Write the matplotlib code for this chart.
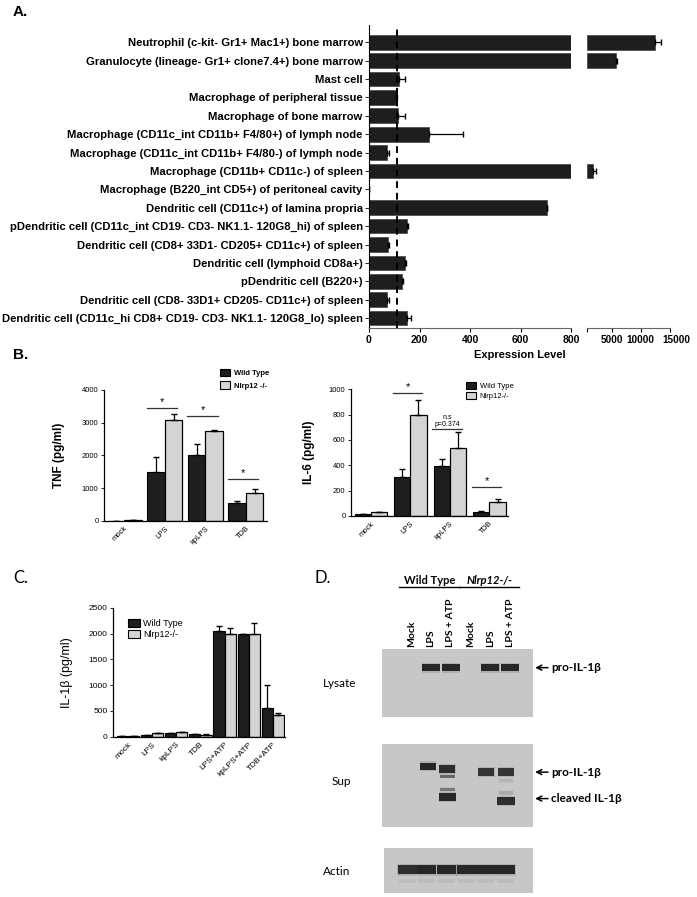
import numpy as np
import matplotlib
matplotlib.use("Agg")
import matplotlib.pyplot as plt
from matplotlib.patches import Patch
from matplotlib.transforms import ScaledTranslation

plt.rcParams['font.family'] = ['Liberation Sans', 'DejaVu Sans']

# ---------------- data ----------------
cells = [
    "Neutrophil (c-kit- Gr1+ Mac1+) bone marrow",
    "Granulocyte (lineage- Gr1+ clone7.4+) bone marrow",
    "Mast cell",
    "Macrophage of peripheral tissue",
    "Macrophage of bone marrow",
    "Macrophage (CD11c_int CD11b+ F4/80+) of lymph node",
    "Macrophage (CD11c_int CD11b+ F4/80-) of lymph node",
    "Macrophage (CD11b+ CD11c-) of spleen",
    "Macrophage (B220_int CD5+) of peritoneal cavity",
    "Dendritic cell (CD11c+) of lamina propria",
    "pDendritic cell (CD11c_int CD19- CD3- NK1.1- 120G8_hi) of spleen",
    "Dendritic cell (CD8+ 33D1- CD205+ CD11c+) of spleen",
    "Dendritic cell (lymphoid CD8a+)",
    "pDendritic cell (B220+)",
    "Dendritic cell (CD8- 33D1+ CD205- CD11c+) of spleen",
    "Dendritic cell (CD11c_hi CD8+ CD19- CD3- NK1.1- 120G8_lo) spleen",
]
expr = np.array([12400, 5700, 118, 105, 116, 237, 72, 1900, 0, 705, 149, 75, 144, 132, 72, 151])
expr_err = np.array([1000, 200, 24, 7, 26, 135, 6, 400, 0, 0, 5, 3, 3, 4, 6, 14])
threshold = 110
break_at = 800

b_groups = ["mock", "LPS", "kpLPS", "TDB"]
tnf_wt = [0, 1500, 2000, 530]
tnf_wt_err = [0, 440, 340, 60]
tnf_ko = [20, 3080, 2750, 860]
tnf_ko_err = [0, 180, 20, 120]
tnf_sig = [(1, 3455), (2, 3200), (3, 1275)]

il6_wt = [14, 310, 395, 34]
il6_wt_err = [4, 62, 52, 4]
il6_ko = [28, 797, 534, 113]
il6_ko_err = [2, 119, 131, 20]
il6_sig = [(1, 973, "*"), (2, 689, "n.s\np=0.374"), (3, 231, "*")]

c_groups = ["mock", "LPS", "kpLPS", "TDB", "LPS+ATP", "kpLPS+ATP", "TDB+ATP"]
il1b_wt = [10, 35, 65, 50, 2050, 2000, 550]
il1b_wt_err = [3, 5, 5, 5, 100, 0, 450]
il1b_ko = [15, 75, 90, 40, 2000, 2000, 430]
il1b_ko_err = [3, 5, 5, 5, 100, 200, 20]

lanes = ["Mock", "LPS", "LPS + ATP", "Mock", "LPS", "LPS + ATP"]
lysate_pro = [0, 1, 1, 0, 1, 1]
sup_pro = [0, 1, 0.95, 0, 0.9, 0.9]
sup_pro_y = [0.73, 0.73, 0.70, 0.66, 0.66, 0.66]
sup_faint1 = [0, 0, 0.55, 0, 0, 0.1]
sup_faint1_y = [0.61, 0.61, 0.61, 0.56, 0.56, 0.56]
sup_faint2 = [0, 0, 0.45, 0, 0, 0.15]
sup_faint2_y = [0.45, 0.45, 0.45, 0.41, 0.41, 0.41]
sup_cleaved = [0, 0, 1, 0, 0, 0.95]
sup_cleaved_y = [0.36, 0.36, 0.36, 0.31, 0.31, 0.31]
actin = [0.95, 1, 1, 1, 1, 1]

W, H = 697, 897
fig = plt.figure(figsize=(W / 100, H / 100), dpi=100)

def px_axes(x0, y0, x1, y1):
    return fig.add_axes([x0 / W, 1 - y1 / H, (x1 - x0) / W, (y1 - y0) / H])

dark = '#1e1e1e'
light = '#d4d4d4'

# ================= Panel A =================
y = np.arange(len(cells))
axL = px_axes(369, 25, 571, 328)
axR = px_axes(587, 25, 670, 328)
axL.barh(y, np.minimum(expr, break_at), height=0.8, color=dark, edgecolor='#444444', lw=0.5)
small = expr <= break_at
axL.errorbar(expr[small], y[small], xerr=[np.zeros(small.sum()), expr_err[small]],
             fmt='none', ecolor='black', elinewidth=0.9, capsize=2)
axL.axvline(threshold, color='black', lw=1.4, ls=(0, (3.5, 2.5)))
axL.set_xlim(0, break_at)
axL.set_ylim(15.54, -0.94)
axL.set_yticks(y)
axL.set_yticklabels(cells, fontsize=8.1, fontweight='bold')
axL.set_xticks([0, 200, 400, 600, 800])
axL.tick_params(axis='x', labelsize=7.5, length=3, width=0.8, pad=2)
axL.tick_params(axis='y', length=3, width=0.6, pad=1.5)
for lbl in axL.get_xticklabels():
    lbl.set_fontweight('bold')
for s in ['top', 'right']:
    axL.spines[s].set_visible(False)
axL.spines['bottom'].set_color('#666666')

big = ~small
axR.barh(y[big], expr[big] - break_at, left=break_at, height=0.8, color=dark,
         edgecolor='#444444', lw=0.5)
axR.errorbar(expr[big], y[big], xerr=[np.zeros(big.sum()), expr_err[big]],
             fmt='none', ecolor='black', elinewidth=0.9, capsize=2)
axR.set_xlim(break_at, 15000)
axR.set_ylim(15.54, -0.94)
axR.set_yticks([])
axR.set_xticks([break_at, 5000, 10000, 15000])
axR.set_xticklabels(['', '5000', '10000', '15000'], fontweight='bold')
axR.tick_params(axis='x', labelsize=7.2, length=3, width=0.8, pad=2)
last = axR.get_xticklabels()[-1]
last.set_transform(last.get_transform() + ScaledTranslation(0.06, 0, fig.dpi_scale_trans))
for s in ['top', 'right', 'left']:
    axR.spines[s].set_visible(False)
axR.spines['bottom'].set_color('#666666')
fig.text(520 / W, 1 - 355 / H, "Expression Level", ha='center', va='center',
         fontsize=8, fontweight='bold')
fig.text(13 / W, 1 - 12 / H, "A.", ha='left', va='center', fontsize=11, fontweight='bold')
fig.text(13 / W, 1 - 355 / H, "B.", ha='left', va='center', fontsize=11, fontweight='bold')


def grouped(ax, wt, wt_err, ko, ko_err, groups, width, ylim, yticks, tick_fs):
    x = np.arange(len(groups))
    ax.bar(x - width / 2, wt, width, color=dark, edgecolor='black', lw=0.8)
    ax.bar(x + width / 2, ko, width, color=light, edgecolor='black', lw=0.9)
    ax.errorbar(x - width / 2, wt, yerr=[np.zeros(len(x)), wt_err], fmt='none',
                ecolor='black', elinewidth=0.9, capsize=2)
    ax.errorbar(x + width / 2, ko, yerr=[np.zeros(len(x)), ko_err], fmt='none',
                ecolor='black', elinewidth=0.9, capsize=2)
    ax.set_ylim(*ylim)
    ax.set_yticks(yticks)
    ax.set_xticks(x)
    ax.set_xticklabels(groups, rotation=45, ha='right', rotation_mode='anchor',
                       fontsize=tick_fs)
    ax.tick_params(axis='y', labelsize=tick_fs, length=2.5, width=0.6, pad=1.5)
    ax.tick_params(axis='x', length=0, pad=3)
    for s in ['top', 'right']:
        ax.spines[s].set_visible(False)
    for s in ['left', 'bottom']:
        ax.spines[s].set_linewidth(0.9)


# ================= Panel B (TNF) =================
axB1 = px_axes(104, 390, 267, 520.7)
grouped(axB1, tnf_wt, tnf_wt_err, tnf_ko, tnf_ko_err, b_groups, 0.43,
        (0, 4000), [0, 1000, 2000, 3000, 4000], 5.5)
axB1.set_xlim(-0.5, 3.52)
for g, v in tnf_sig:
    axB1.plot([g - 0.45, g + 0.3], [v, v], color='#333333', lw=0.9)
    axB1.text(g - 0.07, v + 20, "*", ha='center', va='bottom', fontsize=8)
axB1.set_ylabel("TNF (pg/ml)", fontsize=8.5, fontweight='bold')
axB1.yaxis.set_label_coords(-0.24, 0.5)

# ================= Panel B (IL-6) =================
axB2 = px_axes(351, 389.3, 508, 516)
grouped(axB2, il6_wt, il6_wt_err, il6_ko, il6_ko_err, b_groups, 0.41,
        (0, 1000), [0, 200, 400, 600, 800, 1000], 5.5)
axB2.set_xlim(-0.5, 3.47)
for g, v, t in il6_sig:
    axB2.plot([g - 0.45, g + 0.3], [v, v], color='#333333', lw=0.9)
    if t == "*":
        axB2.text(g - 0.07, v + 5, t, ha='center', va='bottom', fontsize=8)
    else:
        axB2.text(g - 0.07, v + 5, t, ha='center', va='bottom', fontsize=5,
                  linespacing=1.0)
axB2.set_ylabel("IL-6 (pg/ml)", fontsize=8.5, fontweight='bold')
axB2.yaxis.set_label_coords(-0.23, 0.5)

legB = [Patch(facecolor=dark, edgecolor='black', lw=0.8, label="Wild Type"),
        Patch(facecolor=light, edgecolor='black', lw=0.8, label="Nlrp12 -/-")]
fig.legend(handles=legB, loc='upper left', bbox_to_anchor=(216 / W, 1 - 365 / H),
           frameon=False, prop={'size': 5.5, 'weight': 'bold'}, handlelength=1.3,
           handleheight=1.1, labelspacing=0.55, borderpad=0, handletextpad=0.5)
legB2 = [Patch(facecolor=dark, edgecolor='black', lw=0.8, label="Wild Type"),
         Patch(facecolor=light, edgecolor='black', lw=0.8, label="Nlrp12-/-")]
fig.legend(handles=legB2, loc='upper left', bbox_to_anchor=(462 / W, 1 - 378 / H),
           frameon=False, prop={'size': 5.5}, handlelength=1.3,
           handleheight=1.0, labelspacing=0.3, borderpad=0, handletextpad=0.5)

# ================= Panel C =================
axC = px_axes(113, 607.7, 285, 736.7)
grouped(axC, il1b_wt, il1b_wt_err, il1b_ko, il1b_ko_err, c_groups, 0.46,
        (0, 2500), [0, 500, 1000, 1500, 2000, 2500], 6)
axC.set_xlim(-0.62, 6.5)
axC.set_ylabel("IL-1\u03b2 (pg/ml)", fontsize=9)
axC.yaxis.set_label_coords(-0.235, 0.5)
axC.legend(handles=[Patch(facecolor=dark, edgecolor='black', lw=0.8, label="Wild Type"),
                    Patch(facecolor=light, edgecolor='black', lw=0.8, label="Nlrp12-/-")],
           loc='upper left', bbox_to_anchor=(0.06, 0.95), frameon=False,
           prop={'size': 6.5}, handlelength=1.3, handleheight=1.0,
           labelspacing=0.25, borderpad=0, handletextpad=0.4)

fig.text(13 / W, 1 - 578 / H, "C.", ha='left', va='center', fontsize=12,
         family=['Lato', 'DejaVu Sans'])
fig.text(315 / W, 1 - 578 / H, "D.", ha='left', va='center', fontsize=12,
         family=['Lato', 'DejaVu Sans'])

# ================= Panel D (blots) =================
lato = ['Lato', 'DejaVu Sans']
gel_bg = '#c7c7c7'
band_c = '#262626'


def gel(box, xlim):
    ax = px_axes(*box)
    ax.set_facecolor(gel_bg)
    ax.set_xlim(*xlim)
    ax.set_ylim(0, 1)
    ax.set_xticks([])
    ax.set_yticks([])
    for s in ax.spines.values():
        s.set_visible(False)
    return ax


def bands(ax, inten, ypos, h, w=0.9):
    x = np.arange(len(inten))
    ypos = np.broadcast_to(ypos, x.shape)
    for xi, yi, a in zip(x, ypos, inten):
        if a <= 0:
            continue
        ax.barh(yi, w * 1.04, left=xi - w * 1.04 / 2, height=h * 1.3,
                color=band_c, alpha=0.15 * a, lw=0)
        ax.barh(yi, w, left=xi - w / 2, height=h, color=band_c, alpha=a, lw=0)


def side_label(ax, y_frac, text):
    ax.annotate('', xy=(1.012, y_frac), xytext=(1.097, y_frac), xycoords='axes fraction',
                arrowprops=dict(arrowstyle='->', lw=1.1, color='black',
                                shrinkA=0, shrinkB=0, mutation_scale=9))
    ax.text(1.12, y_frac, text, transform=ax.transAxes, ha='left', va='center',
            fontsize=8.5, fontweight='bold', family=lato)


axLy = gel((381.7, 649.3, 533.3, 717.3), (-1.5, 6.18))
bands(axLy, lysate_pro, 0.73, 0.11)
axLy.xaxis.tick_top()
axLy.set_xticks(np.arange(len(lanes)))
axLy.set_xticklabels(lanes, rotation=90, fontsize=7.5, fontweight='bold', family=lato)
axLy.tick_params(axis='x', length=0, pad=2)
side_label(axLy, 0.73, "pro-IL-1\u03b2")
axLy.text(-0.387, 0.49, "Lysate", transform=axLy.transAxes, ha='left', va='center',
          fontsize=8.5, family=lato)
tr = axLy.get_xaxis_transform()
for (a, b, t, st) in [(0, 2, "Wild Type", 'normal'), (3, 5, "Nlrp12-/-", 'italic')]:
    axLy.plot([a - 0.6, b + 0.45], [1.91, 1.91], color='black', lw=1.0,
              transform=tr, clip_on=False)
    axLy.text((a + b) / 2 - 0.05, 1.935, t, transform=tr, ha='center', va='bottom',
              fontsize=8, fontweight='bold', style=st, family=lato)

axSup = gel((381.7, 744, 533.3, 826.7), (-1.37, 6.4))
bands(axSup, sup_pro, sup_pro_y, 0.09, 0.82)
bands(axSup, sup_faint1, sup_faint1_y, 0.04, 0.75)
bands(axSup, sup_faint2, sup_faint2_y, 0.045, 0.75)
bands(axSup, sup_cleaved, sup_cleaved_y, 0.09, 0.88)
side_label(axSup, 0.66, "pro-IL-1\u03b2")
side_label(axSup, 0.34, "cleaved IL-1\u03b2")
axSup.text(-0.33, 0.55, "Sup", transform=axSup.transAxes, ha='left', va='center',
           fontsize=8.5, family=lato)

axAc = gel((384.3, 848.3, 533.3, 893.3), (-1.16, 6.4))
bands(axAc, np.array(actin) * 0.05, 0.28, 0.08, 0.85)
bands(axAc, actin, 0.52, 0.2, 0.97)
axAc.text(-0.41, 0.48, "Actin", transform=axAc.transAxes, ha='left', va='center',
          fontsize=8.5, family=lato)

fig.savefig("out.png", dpi=100)
